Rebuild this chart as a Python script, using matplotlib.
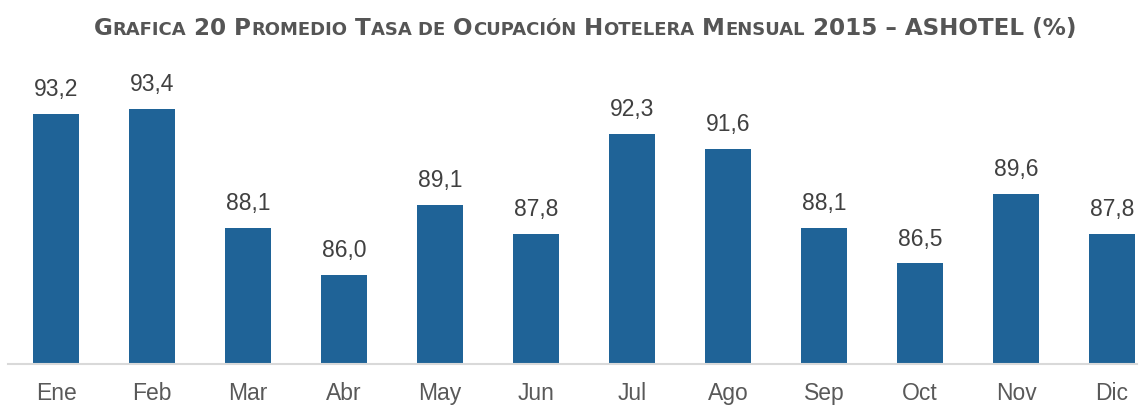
import matplotlib
matplotlib.use("Agg")
import matplotlib.pyplot as plt

meses = ["Ene", "Feb", "Mar", "Abr", "May", "Jun", "Jul", "Ago", "Sep", "Oct", "Nov", "Dic"]
ocupacion = [93.2, 93.4, 88.1, 86.0, 89.1, 87.8, 92.3, 91.6, 88.1, 86.5, 89.6, 87.8]

# titulo en versalitas: (texto, es_grande)
titulo = [("G", True), ("RAFICA", False), (" 20 ", True), ("P", True), ("ROMEDIO", False),
          (" T", True), ("ASA DE", False), (" O", True), ("CUPACIÓN", False), (" H", True),
          ("OTELERA", False), (" M", True), ("ENSUAL", False), (" 2015 – ASHOTEL (%)", True)]

W, H = 1146, 406
fig = plt.figure(figsize=(W / 100, H / 100), dpi=100)
ax = fig.add_axes([8 / W, (H - 365) / H, (1137 - 8) / W, 313 / H])

x = range(len(meses))
bars = ax.bar(x, ocupacion, width=0.48, color="#1f6397")
ax.set_ylim(82, 96)
ax.set_xlim(-0.5, 11.26)

for b, v in zip(bars, ocupacion):
    ax.annotate(f"{v:.1f}".replace(".", ","), (b.get_x() + b.get_width() / 2, v),
                xytext=(0, 10), textcoords="offset points", ha="center", va="bottom",
                fontsize=16.5, color="#404040", family="Liberation Sans")

ax.set_xticks(list(x))
ax.set_xticklabels(meses, fontsize=16.5, color="#595959", family="Liberation Sans")
ax.tick_params(axis="x", length=0, pad=12)
ax.set_yticks([])
for s in ["top", "left", "right"]:
    ax.spines[s].set_visible(False)
ax.spines["bottom"].set_color("#d9d9d9")
ax.spines["bottom"].set_linewidth(1.5)

# titulo con versalitas
fig.canvas.draw()
r = fig.canvas.get_renderer()
big, small = 16.6, 13
y_t = 1 - 35 / H
piezas = []
xpos = 0
for txt, grande in titulo:
    t = fig.text(xpos, y_t, txt, fontsize=big if grande else small, fontweight="bold",
                 color="#555555", family="DejaVu Sans", va="baseline", ha="left")
    ext = t.get_window_extent(r)
    piezas.append(t)
    xpos += ext.width / W
inicio = 585 / W - xpos / 2
for t in piezas:
    px, py = t.get_position()
    t.set_position((px + inicio, py))

fig.savefig("out.png", dpi=100)
